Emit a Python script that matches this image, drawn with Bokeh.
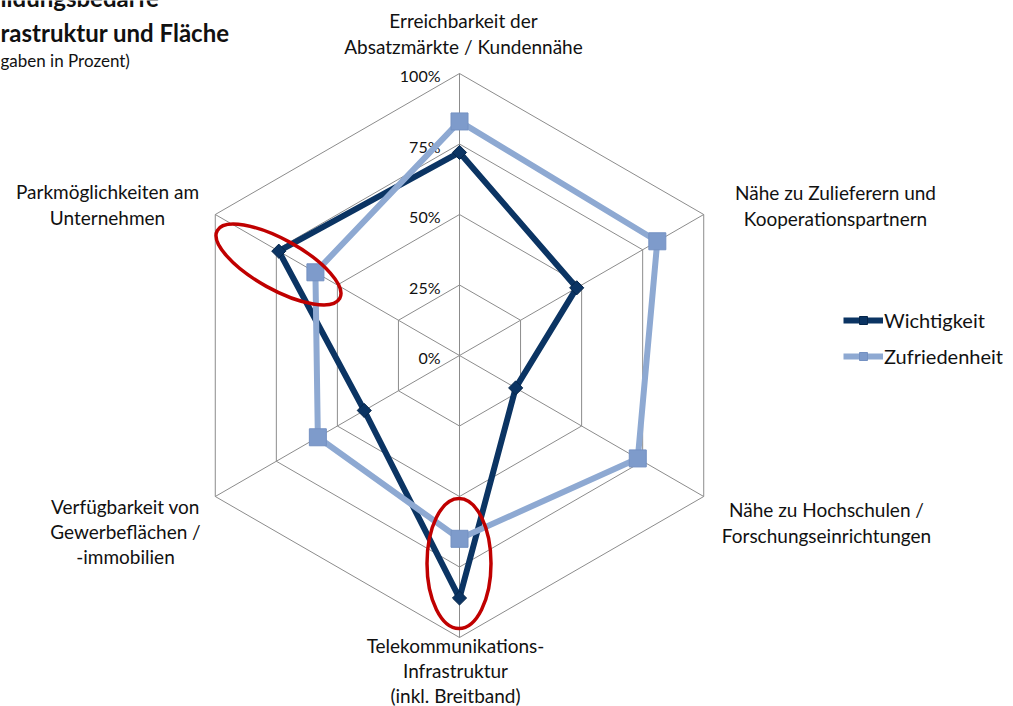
import numpy as np
from bokeh.plotting import figure
from bokeh.models import Range1d, Legend, LegendItem, Label
from bokeh.core.properties import value
from bokeh.embed import file_html
from bokeh.resources import INLINE

# ---------------- data ----------------
categories = [
    "Erreichbarkeit der\nAbsatzmärkte / Kundennähe",
    "Nähe zu Zulieferern und\nKooperationspartnern",
    "Nähe zu Hochschulen /\nForschungseinrichtungen",
    "Telekommunikations-\nInfrastruktur\n(inkl. Breitband)",
    "Verfügbarkeit von\nGewerbeflächen /\n-immobilien",
    "Parkmöglichkeiten am\nUnternehmen",
]
wichtigkeit = [72, 48, 23, 86, 39, 74]
zufriedenheit = [83, 81, 73, 65, 58, 59]
series_names = ["Wichtigkeit", "Zufriedenheit"]
tick_values = [0, 25, 50, 75, 100]
tick_labels = ["0%", "25%", "50%", "75%", "100%"]
title_lines = ["ildungsbedarfe", "rastruktur und Fläche", "gaben in Prozent)"]

# ---------------- layout constants ----------------
W, H = 1013, 706
CX, CY = 459, 355          # radar centre in picture pixels
R = 282                    # pixels for 100 %
FONT = "Lato"
NAVY = "#0b3463"
LIGHT = "#8ea9d2"
LIGHT_MARK = "#7e9bcb"
GRID = "#8c8c8c"
RED = "#c00000"
TXT = "#111111"

# category label anchors (picture px)
label_pos = [(463, 33), (835, 205), (826, 522), (455, 670), (125, 531), (107, 204)]


def px(x):
    return x - CX


def py(y):
    return CY - y


angles = np.pi / 2 - np.arange(len(categories)) * np.pi / 3


def polar(vals):
    r = np.asarray(vals, dtype=float) / 100.0 * R
    return r * np.cos(angles), r * np.sin(angles)


p = figure(width=W, height=H, output_backend="svg", toolbar_location=None,
           x_range=Range1d(-CX, W - CX), y_range=Range1d(CY - H, CY),
           x_axis_type=None, y_axis_type=None, min_border=0)
p.grid.visible = False
p.outline_line_color = None
p.background_fill_color = "white"

# grid hexagons
for t in tick_values[1:]:
    gx, gy = polar([t] * len(categories))
    p.line(list(gx) + [gx[0]], list(gy) + [gy[0]], line_color=GRID, line_width=1)
# spokes
sx, sy = polar([100] * len(categories))
p.segment(x0=[0] * len(categories), y0=[0] * len(categories), x1=sx, y1=sy,
          line_color=GRID, line_width=1)

# tick labels
p.text(x=[-19] * len(tick_values), y=[t / 100 * R for t in tick_values], text=tick_labels,
       text_align="right", text_baseline="middle", y_offset=2,
       text_font=value(FONT), text_font_size="16px", text_color=TXT)

# category labels
p.text(x=[px(a) for a, b in label_pos], y=[py(b) for a, b in label_pos], text=categories,
       text_align="center", text_baseline="middle", text_line_height=1.1,
       text_font=value(FONT), text_font_size="19px", text_color=TXT)

# series
wx, wy = polar(wichtigkeit)
zx, zy = polar(zufriedenheit)
l1 = p.line(list(wx) + [wx[0]], list(wy) + [wy[0]], line_color=NAVY, line_width=6, line_join="round")
m1 = p.scatter(wx, wy, marker="square", angle=np.pi / 4, size=10,
               fill_color=NAVY, line_color="#06264a", line_width=1)
l2 = p.line(list(zx) + [zx[0]], list(zy) + [zy[0]], line_color=LIGHT, line_width=6, line_join="round")
m2 = p.scatter(zx, zy, marker="square", size=17,
               fill_color=LIGHT_MARK, line_color="#7491c2", line_width=1)

# highlight ellipses
p.ellipse(x=[px(278), px(458.5)], y=[py(264), py(563)], width=[140, 64], height=[50, 130],
          angle=[np.deg2rad(-29), 0], fill_color=None, line_color=RED, line_width=3.5)

# legend
legend = Legend(items=[LegendItem(label=series_names[0], renderers=[l1, m1]),
                       LegendItem(label=series_names[1], renderers=[l2, m2])],
                location=(843, 338), glyph_width=40, glyph_height=20, spacing=12,
                label_standoff=1, padding=0, margin=0,
                label_text_font=FONT, label_text_font_size="20px", label_text_color=TXT,
                border_line_color=None, background_fill_alpha=0)
p.add_layout(legend, "center")

# title fragments
p.add_layout(Label(x=px(0), y=py(-3), text=title_lines[0], text_font=FONT, text_font_size="24px",
                   text_font_style="bold", text_baseline="middle", text_color=TXT))
p.add_layout(Label(x=px(0), y=py(32), text=title_lines[1], text_font=FONT, text_font_size="24px",
                   text_font_style="bold", text_baseline="middle", text_color=TXT))
p.add_layout(Label(x=px(0), y=py(60), text=title_lines[2], text_font=FONT, text_font_size="17px",
                   text_baseline="middle", text_color=TXT))

open("out.html", "w").write(file_html(p, INLINE))
